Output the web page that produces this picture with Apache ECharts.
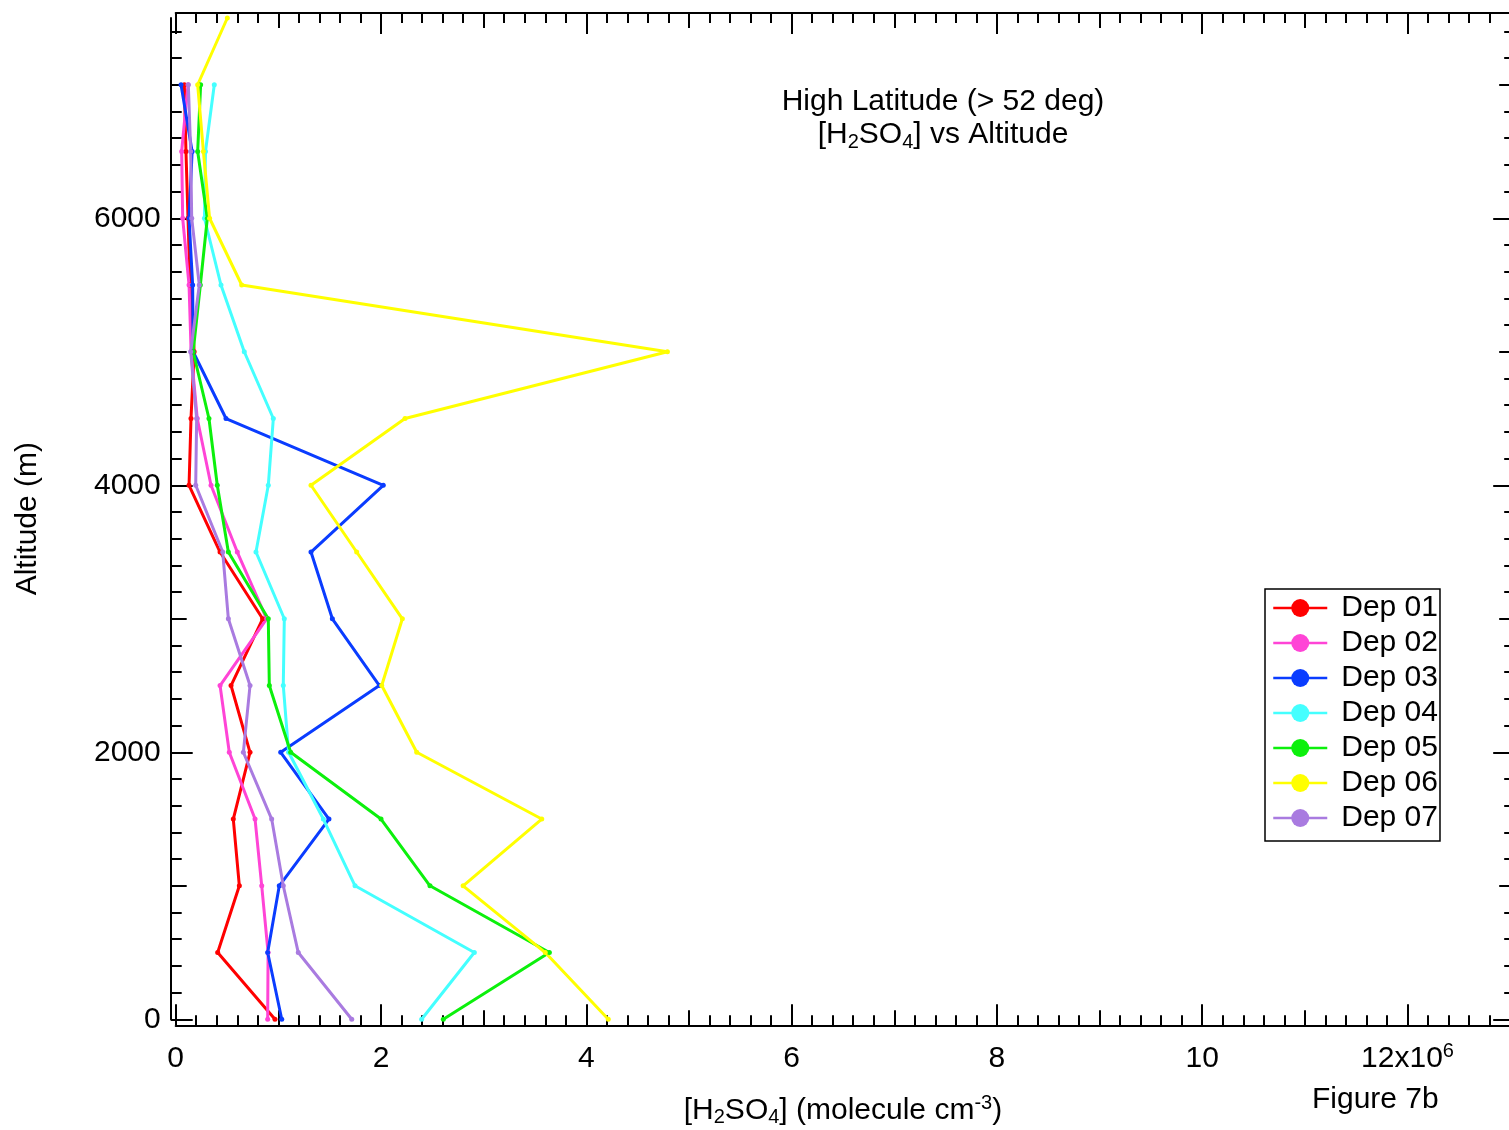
<!DOCTYPE html>
<html>
<head>
<meta charset="utf-8">
<script src="https://cdn.jsdelivr.net/npm/echarts@6/dist/echarts.min.js"></script>
<style>html,body{margin:0;padding:0;background:#fff}#c{width:1509px;height:1130px}</style>
</head>
<body>
<div id="c"></div>
<script>
// Altitude levels (m)
const altitudes = [0, 500, 1000, 1500, 2000, 2500, 3000, 3500, 4000, 4500, 5000, 5500, 6000, 6500, 7000, 7500];
// [H2SO4] in units of 1e6 molecule cm^-3, one value per altitude level
const dep01 = [0.967, 0.409, 0.62, 0.561, 0.724, 0.539, 0.847, 0.432, 0.13, 0.149, 0.18, 0.14, 0.12, 0.10, 0.084];
const dep02 = [0.896, 0.90, 0.838, 0.773, 0.522, 0.432, 0.886, 0.60, 0.344, 0.21, 0.15, 0.13, 0.068, 0.058, 0.12];
const dep03 = [1.033, 0.896, 1.009, 1.493, 1.023, 1.984, 1.526, 1.318, 2.022, 0.49, 0.17, 0.165, 0.13, 0.16, 0.052];
const dep04 = [2.396, 2.909, 1.747, 1.438, 1.10, 1.048, 1.058, 0.782, 0.902, 0.951, 0.668, 0.441, 0.28, 0.29, 0.376];
const dep05 = [2.607, 3.64, 2.477, 2.0, 1.12, 0.912, 0.902, 0.513, 0.405, 0.324, 0.17, 0.24, 0.308, 0.214, 0.243];
const dep06 = [4.214, 3.6, 2.80, 3.566, 2.348, 2.007, 2.208, 1.763, 1.318, 2.234, 4.79, 0.643, 0.33, 0.27, 0.214, 0.503];
const dep07 = [1.715, 1.194, 1.048, 0.935, 0.659, 0.724, 0.513, 0.458, 0.195, 0.204, 0.146, 0.23, 0.156, 0.146, 0.123];
const seriesNames = ['Dep 01', 'Dep 02', 'Dep 03', 'Dep 04', 'Dep 05', 'Dep 06', 'Dep 07'];
const seriesColors = ['#ff0000', '#ff44d6', '#0a3cff', '#44ffff', '#0cf00c', '#ffff00', '#a97be0'];
const xTickLabels = [0, 2, 4, 6, 8, 10, 12];
const yTickLabels = [0, 2000, 4000, 6000];

const allSeries = [dep01, dep02, dep03, dep04, dep05, dep06, dep07];
const FONT = '"Liberation Sans", Arial, sans-serif';
const FS = 30;
const SFS = 20;

function range(a, b, step, dec) {
  const out = [];
  for (let i = 0; a + i * step <= b + 1e-9; i++) out.push(Math.round((a + i * step) * dec) / dec);
  return out;
}
const xMed = range(0, 13, 1, 1);
const xMinor = range(0, 13, 0.2, 10);
const yMed = range(0, 7000, 1000, 1);
const yMinor = range(0, 7400, 200, 1);

const X_MIN = 0, X_MAX = 13, Y_MIN = 0, Y_MAX = 7500;

function xAx(pos, offset, ticks, len, labels, lineShow) {
  const a = {
    type: 'value', position: pos, offset: offset, min: X_MIN, max: X_MAX, gridIndex: 0,
    axisLine: {show: lineShow, onZero: false, lineStyle: {color: '#000', width: 2}},
    axisTick: {show: true, inside: true, length: len, customValues: ticks, lineStyle: {color: '#000', width: 2}},
    axisLabel: {show: false},
    splitLine: {show: false}
  };
  if (labels) {
    a.axisLabel = {
      show: true, customValues: xTickLabels, margin: 16, color: '#000', fontFamily: FONT, fontSize: FS,
      formatter: v => v === 12 ? '{a|12x10}{s|6}' : '{a|' + v + '}',
      rich: {a: {fontSize: FS, fontFamily: FONT, color: '#000', lineHeight: 34},
             s: {fontSize: SFS, fontFamily: FONT, color: '#000', lineHeight: 20, padding: [0, 0, 14, 0]}}
    };
    a.name = '{a|[H}{s|2}{a|SO}{s|4}{a|] (molecule cm}{p|-3}{a|)}';
    a.nameLocation = 'middle';
    a.nameGap = 68;
    a.nameTextStyle = {
      rich: {a: {fontSize: FS, fontFamily: FONT, color: '#000', lineHeight: 34},
             s: {fontSize: SFS, fontFamily: FONT, color: '#000', lineHeight: 20, padding: [14, 0, 0, 0]},
             p: {fontSize: SFS, fontFamily: FONT, color: '#000', lineHeight: 20, padding: [0, 0, 14, 0]}}
    };
  }
  return a;
}
function yAx(pos, offset, ticks, len, labels, lineShow) {
  const a = {
    type: 'value', position: pos, offset: offset, min: Y_MIN, max: Y_MAX, gridIndex: 0,
    axisLine: {show: lineShow, onZero: false, lineStyle: {color: '#000', width: 2}},
    axisTick: {show: true, inside: true, length: len, customValues: ticks, lineStyle: {color: '#000', width: 2}},
    axisLabel: {show: false},
    splitLine: {show: false}
  };
  if (labels) {
    a.axisLabel = {show: true, customValues: yTickLabels, margin: 10, color: '#000', fontFamily: FONT, fontSize: FS,
                   formatter: v => String(v)};
    a.name = 'Altitude (m)';
    a.nameLocation = 'middle';
    a.nameRotate = 90;
    a.nameGap = 128;
    a.nameTextStyle = {fontSize: FS, fontFamily: FONT, color: '#000'};
  }
  return a;
}

const option = {
  animation: false,
  backgroundColor: '#fff',
  grid: {left: 175.7, top: 18, width: 1334.5, height: 1001.3, containLabel: false, outerBoundsMode: 'none'},
  xAxis: [
    xAx('bottom', 6, xTickLabels, 21, true, true),
    xAx('bottom', 6, xMed, 15, false, false),
    xAx('bottom', 6, xMinor, 10, false, false),
    xAx('top', 5, xTickLabels, 21, false, true),
    xAx('top', 5, xMed, 15, false, false),
    xAx('top', 5, xMinor, 10, false, false)
  ],
  yAxis: [
    yAx('left', 5, yTickLabels, 22, true, true),
    yAx('left', 5, yMed, 16, false, false),
    yAx('left', 5, yMinor, 11, false, false),
    yAx('right', 5, yTickLabels, 22, false, true),
    yAx('right', 5, yMed, 16, false, false),
    yAx('right', 5, yMinor, 11, false, false)
  ],
  legend: {
    orient: 'vertical', left: 1265, top: 589,
    itemWidth: 54, itemHeight: 22.5, itemGap: 5,
    borderColor: '#000', borderWidth: 1.5, padding: [4, 2, 8, 7],
    lineStyle: {width: 2.5},
    textStyle: {fontSize: FS, fontFamily: FONT, color: '#000', lineHeight: 30, padding: [0, 0, 0, 9]},
    data: seriesNames
  },
  graphic: [
    {type: 'text', x: 943, y: 102, silent: true,
     style: {text: 'High Latitude (> 52 deg)', font: FS + 'px ' + FONT, fill: '#000', align: 'center', verticalAlign: 'middle'}},
    {type: 'text', x: 943, y: 135, silent: true,
     style: {text: '{a|[H}{s|2}{a|SO}{s|4}{a|] vs Altitude}', align: 'center', verticalAlign: 'middle',
             rich: {a: {fontSize: FS, fontFamily: FONT, fill: '#000', lineHeight: 34},
                    s: {fontSize: SFS, fontFamily: FONT, fill: '#000', lineHeight: 20, padding: [14, 0, 0, 0]}}}},
    {type: 'text', x: 1312, y: 1100, silent: true,
     style: {text: 'Figure 7b', font: FS + 'px ' + FONT, fill: '#000', align: 'left', verticalAlign: 'middle'}}
  ],
  series: allSeries.map((vals, i) => ({
    name: seriesNames[i], type: 'line', xAxisIndex: 0, yAxisIndex: 0,
    data: vals.map((v, k) => [v, altitudes[k]]),
    symbol: 'circle', symbolSize: 5, showSymbol: true,
    color: seriesColors[i],
    lineStyle: {width: 3, color: seriesColors[i]},
    itemStyle: {color: seriesColors[i]},
    emphasis: {disabled: true}
  }))
};
const chart = echarts.init(document.getElementById('c'), null, {renderer: 'canvas'});
chart.setOption(option);
</script>
</body>
</html>
